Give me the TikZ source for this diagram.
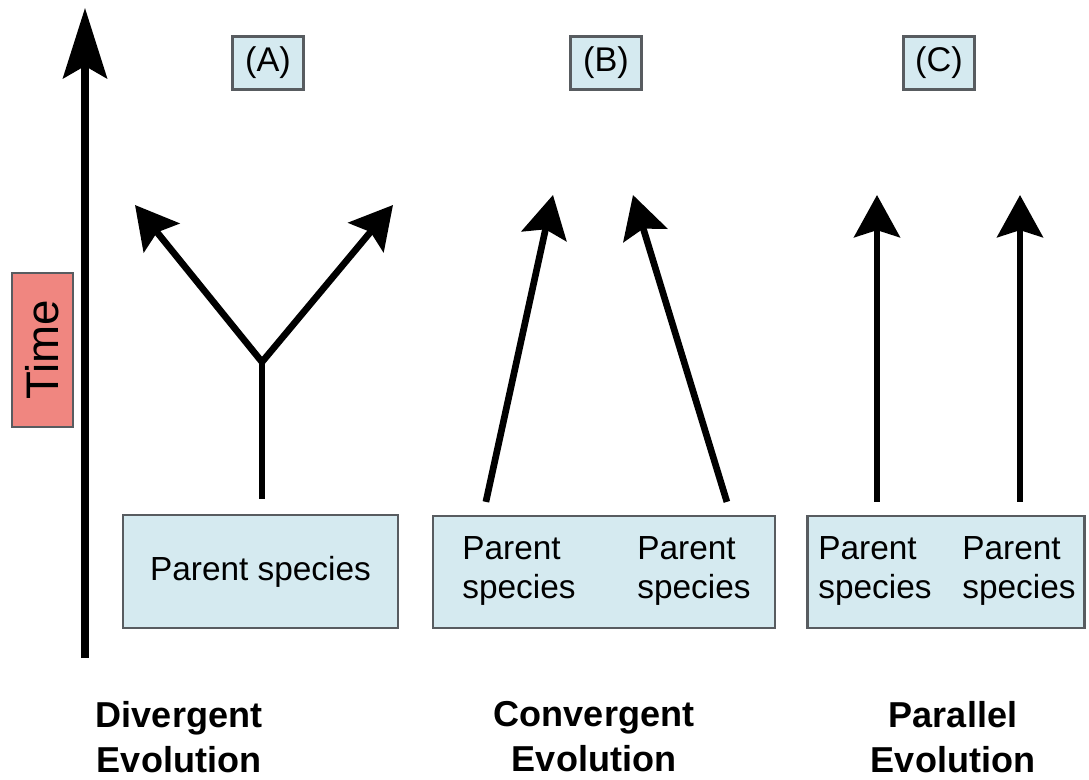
\documentclass[tikz,border=0pt]{standalone}
\usepackage{fontspec}
\setmainfont{Liberation Sans}
\usetikzlibrary{arrows.meta,calc}
\definecolor{BoxClr}{RGB}{213,234,240}
\definecolor{TimeClr}{RGB}{240,134,128}
\definecolor{EdgeClr}{RGB}{88,92,96}

\begin{document}
\begin{tikzpicture}[x=0.02cm,y=-0.02cm,
  evo/.style={line width=3.8pt,-{Stealth[length=24pt,width=26pt,inset=4pt]}},
  spbox/.style={draw=EdgeClr,line width=1.3pt,fill=BoxClr,inner sep=0pt,
    font=\fontsize{19pt}{22pt}\selectfont},
  sptext/.style={anchor=west,align=left,inner sep=0pt,
    font=\fontsize{19pt}{22.5pt}\selectfont},
  tag/.style={draw=EdgeClr,line width=1.3pt,fill=BoxClr,inner sep=0pt,
    minimum width=1.42cm,minimum height=1.06cm,font=\fontsize{19.5pt}{22pt}\selectfont},
  kind/.style={align=center,inner sep=0pt,font=\fontsize{20.5pt}{25.5pt}\selectfont\bfseries}]
\useasboundingbox (0,0) rectangle (1089,780);

% time axis
\coordinate (t0) at (85,658);
\coordinate (t1) at (85,8);
\draw[line width=4pt,-{Stealth[length=40pt,width=25pt,inset=7pt]}] (t0) -- (t1);
\node[draw=EdgeClr,line width=1.3pt,fill=TimeClr,rotate=90,inner sep=0pt,
  minimum width=3.08cm,minimum height=1.22cm,font=\fontsize{26pt}{30pt}\selectfont]
  (time) at (42.5,350) {Time};

% panel tags
\node[tag] (la) at (268,63) {(A)};
\node[tag] (lb) at (606,63) {(B)};
\node[tag] (lc) at (939,63) {(C)};

% parent species boxes
\node[spbox,minimum width=5.5cm,minimum height=2.26cm] (pa) at (260.5,571.5) {Parent species};
\node[spbox,minimum width=6.84cm,minimum height=2.24cm] (pb) at (604,572) {};
\node[spbox,minimum width=5.54cm,minimum height=2.24cm] (pc) at (946,572) {};
\node[sptext] (pb1) at (462,571) {Parent\\species};
\node[sptext] (pb2) at (637,571) {Parent\\species};
\node[sptext] (pc1) at (818,571) {Parent\\species};
\node[sptext] (pc2) at (962,571) {Parent\\species};

% (A) divergent
\coordinate (ya) at (262,362);
\coordinate (a1) at (135,205);
\coordinate (a2) at (393,205);
\draw[line width=3.8pt] ($(ya |- pa.north)+(0,-15)$) -- (ya);
\draw[evo,{Stealth[length=24pt,width=26pt,inset=4pt]}-{Stealth[length=24pt,width=26pt,inset=4pt]}]
  (a1) -- (ya) -- (a2);

% (B) convergent
\coordinate (b1) at (553,195);
\coordinate (b2) at (633,195);
\draw[evo] ($(pb.north west)+(54,-13)$) -- (b1);
\draw[evo] ($(pb.north west)+(295,-13)$) -- (b2);

% (C) parallel
\coordinate (c1) at (877,195);
\coordinate (c2) at (1020,195);
\draw[evo] ($(c1 |- pc.north)+(0,-13)$) -- (c1);
\draw[evo] ($(c2 |- pc.north)+(0,-13)$) -- (c2);

% captions
\node[kind] (ka) at (179,737) {Divergent\\Evolution};
\node[kind] (kb) at (594,737) {Convergent\\Evolution};
\node[kind] (kc) at (953,737) {Parallel\\Evolution};
\end{tikzpicture}
\end{document}
